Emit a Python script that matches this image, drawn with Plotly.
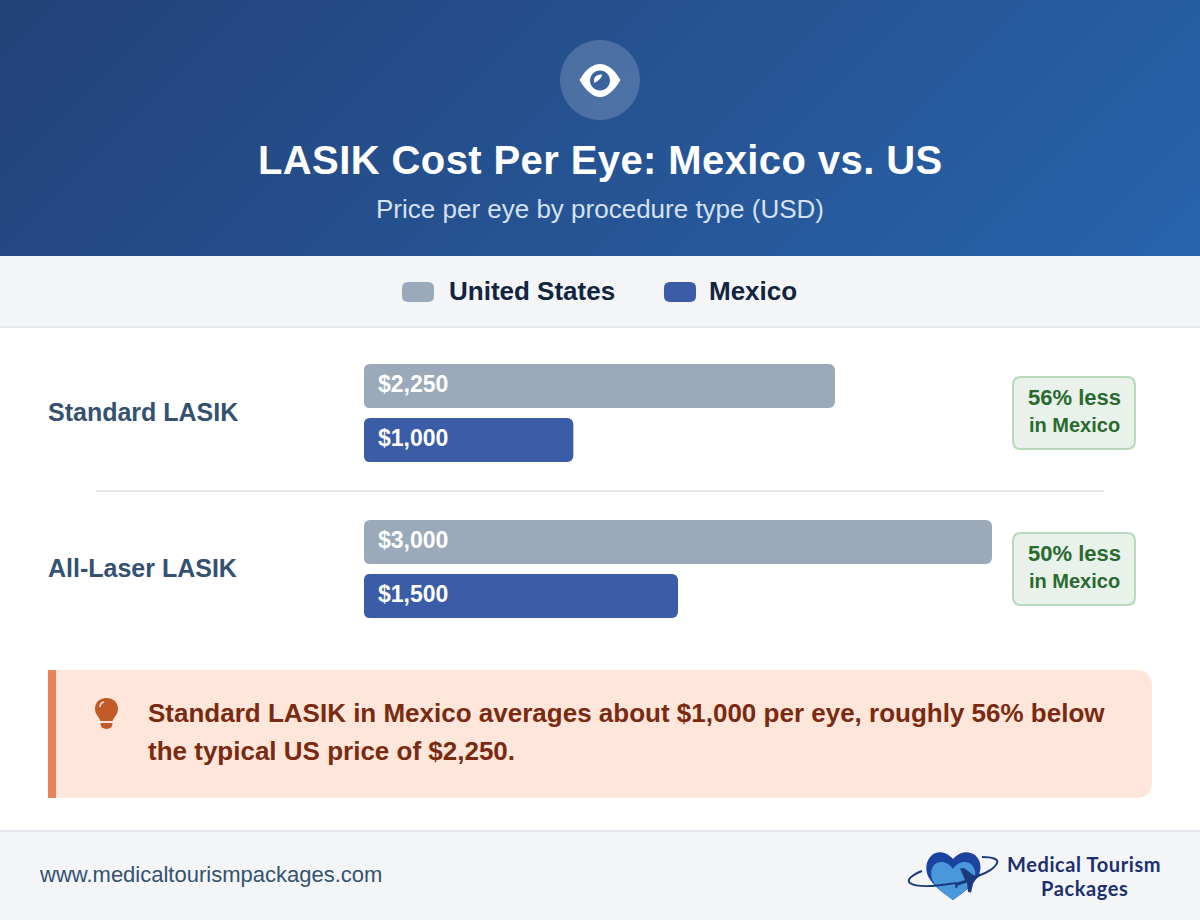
import base64
import plotly.graph_objects as go

W, H = 1200, 920

# Chart data
categories = ["Standard LASIK", "All-Laser LASIK"]
us_prices = [2250, 3000]
mexico_prices = [1000, 1500]
savings = ["56% less", "50% less"]
series_names = ["United States", "Mexico"]

# Palette
US_COLOR = "#9aaaba"
MX_COLOR = "#3b5ca6"
BAND = "#f3f5f7"
RULE = "#e5e9ee"
SANS = "Liberation Sans"


def px(x, y):
    """Canvas pixels (origin top-left) to paper fractions."""
    return x / W, 1 - y / H


def path(*cmds):
    """Build a paper-space SVG path from commands given in canvas pixels."""
    out = []
    for c in cmds:
        if isinstance(c, str):
            out.append(c)
        else:
            a, b = px(*c)
            out.append(f"{a:.5f},{b:.5f}")
    return " ".join(out)


def rounded(x0, y0, x1, y1, r):
    rtl, rtr, rbr, rbl = r if isinstance(r, tuple) else (r, r, r, r)
    return path("M", (x0 + rtl, y0), "L", (x1 - rtr, y0), "Q", (x1, y0), (x1, y0 + rtr),
                "L", (x1, y1 - rbr), "Q", (x1, y1), (x1 - rbr, y1),
                "L", (x0 + rbl, y1), "Q", (x0, y1), (x0, y1 - rbl),
                "L", (x0, y0 + rtl), "Q", (x0, y0), (x0 + rtl, y0), "Z")


def circle(cx, cy, r):
    k = 0.5523 * r
    return path("M", (cx - r, cy), "C", (cx - r, cy - k), (cx - k, cy - r), (cx, cy - r),
                "C", (cx + k, cy - r), (cx + r, cy - k), (cx + r, cy),
                "C", (cx + r, cy + k), (cx + k, cy + r), (cx, cy + r),
                "C", (cx - k, cy + r), (cx - r, cy + k), (cx - r, cy), "Z")


def solid(d, color, line=None, width=0):
    return dict(type="path", path=d, xref="paper", yref="paper", layer="below",
                fillcolor=color, line=dict(color=line or color, width=width))


def stroke(d, color, width):
    return dict(type="path", path=d, xref="paper", yref="paper", layer="below",
                fillcolor="rgba(0,0,0,0)", line=dict(color=color, width=width))


def label(x, y, text, size, color, anchor="left", bold=False, family=SANS):
    a, b = px(x, y)
    return dict(xref="paper", yref="paper", x=a, y=b, text=f"<b>{text}</b>" if bold else text,
                showarrow=False, xanchor=anchor, yanchor="middle",
                font=dict(family=family, size=size, color=color), borderpad=0, borderwidth=0)


shapes = []
notes = []

# Header: icon disc and eye
shapes.append(solid(circle(600, 80, 40), "rgba(255,255,255,0.18)"))
shapes.append(solid(path("M", (579.5, 80), "C", (586, 69), (593, 64), (600, 64),
                         "C", (607, 64), (614, 69), (620.5, 80),
                         "C", (614, 91), (607, 97), (600, 97),
                         "C", (593, 97), (586, 91), (579.5, 80), "Z"), "#ffffff"))
shapes.append(solid(circle(600, 80.5, 10), "#3a63a0"))
shapes.append(solid(path("M", (594.5, 83), "C", (592.5, 78), (596, 74), (602, 74.5),
                         "C", (602, 78), (598.5, 80.5), (594.5, 83), "Z"), "#ffffff"))
notes.append(label(600, 160, '<span style="letter-spacing:0.4px">LASIK Cost Per Eye: Mexico vs. US</span>',
                   40, "#ffffff", "center", True))
notes.append(label(600, 209, "Price per eye by procedure type (USD)", 26, "#d5e1f0", "center"))

# Legend band
shapes.append(solid(path("M", (0, 256), "L", (W, 256), "L", (W, 326), "L", (0, 326), "Z"), BAND))
shapes.append(solid(path("M", (0, 326), "L", (W, 326), "L", (W, 328), "L", (0, 328), "Z"), RULE))
shapes.append(solid(rounded(402, 282, 434, 302, 6), US_COLOR))
shapes.append(solid(rounded(664, 282, 696, 302, 6), MX_COLOR))
notes.append(label(449, 291, series_names[0], 26, "#12243f", "left", True))
notes.append(label(709, 291, series_names[1], 26, "#12243f", "left", True))

# Divider between the two procedure rows
shapes.append(solid(path("M", (96, 490), "L", (1104, 490), "L", (1104, 492), "L", (96, 492), "Z"), RULE))

# Savings badges
for text, top in zip(savings, [376, 532]):
    shapes.append(solid(rounded(1013, top + 1, 1135, top + 73, 8), "#e8f2ea", "#b9d9bd", 2))
    notes.append(label(1074.5, top + 21, text, 22, "#2a6a2f", "center", True))
    notes.append(label(1074.5, top + 49, "in Mexico", 20, "#2a6a2f", "center", True))

# Callout
shapes.append(solid(rounded(48, 670, 1152, 798, (0, 16, 16, 0)), "#ffe6da"))
shapes.append(solid(path("M", (48, 670), "L", (56, 670), "L", (56, 798), "L", (48, 798), "Z"), "#e8825a"))
shapes.append(solid(path("M", (95, 709), "C", (95, 702), (100, 698), (106.5, 698),
                         "C", (113, 698), (118, 702), (118, 709),
                         "C", (118, 714), (114, 717), (112.5, 721), "L", (100.5, 721),
                         "C", (99, 717), (95, 714), (95, 709), "Z"), "#c05a28"))
shapes.append(solid(path("M", (100.5, 723), "L", (112.5, 723), "Q", (112.5, 729), (106.5, 729),
                         "Q", (100.5, 729), (100.5, 723), "Z"), "#c05a28"))
shapes.append(stroke(path("M", (100, 707), "Q", (100, 703), (104, 702)), "#ffe6da", 1.5))
notes.append(label(148, 713, "Standard LASIK in Mexico averages about $1,000 per eye, roughly 56% below",
                   26, "#7a2a10", "left", True))
notes.append(label(148, 751, "the typical US price of $2,250.", 26, "#7a2a10", "left", True))

# Footer
shapes.append(solid(path("M", (0, 830), "L", (W, 830), "L", (W, H), "L", (0, H), "Z"), BAND))
shapes.append(solid(path("M", (0, 830), "L", (W, 830), "L", (W, 832), "L", (0, 832), "Z"), RULE))
notes.append(label(39, 874.5, "www.medicaltourismpackages.com", 22, "#34526f"))

# Footer brand mark: heart, orbit and aeroplane
shapes.append(solid(path("M", (953, 859), "C", (947, 852), (938, 850), (932, 855),
                         "C", (925, 861), (925, 871), (929, 878),
                         "C", (935, 888), (946, 895), (953, 900),
                         "C", (960, 895), (971, 888), (977, 878),
                         "C", (982, 871), (982, 861), (975, 855),
                         "C", (968, 850), (959, 852), (953, 859), "Z"), "#1d43a0"))
shapes.append(solid(path("M", (953, 869), "C", (948, 861), (939, 860), (934, 865),
                         "C", (929, 871), (931, 880), (936, 886),
                         "C", (941, 892), (948, 896), (953, 900),
                         "C", (958, 896), (966, 891), (971, 885),
                         "C", (976, 879), (977, 871), (972, 865),
                         "C", (967, 860), (958, 861), (953, 869), "Z"), "#4a98dc"))
shapes.append(stroke(path("M", (922, 871), "C", (912, 875), (906, 880), (910, 883),
                          "C", (917, 888), (938, 886), (956, 883)), "#1b3a7e", 2))
shapes.append(stroke(path("M", (982, 857), "C", (992, 857), (999, 859), (997, 863),
                          "C", (995, 868), (987, 873), (979, 875.5)), "#1b3a7e", 2))
shapes.append(solid(path("M", (955, 883), "L", (965, 880), "L", (960, 868.5), "L", (964, 868),
                         "L", (974, 875.5), "L", (980, 873.5), "L", (979.5, 876.5), "L", (974, 880),
                         "L", (971, 892.5), "L", (968, 892), "L", (967, 882.5),
                         "L", (958, 885.5), "L", (957, 888), "L", (955.5, 888), "Z"), "#1b3a7e"))
brand_line = '<span style="letter-spacing:0.6px">{}</span>'
notes.append(label(1084, 864, brand_line.format("Medical Tourism"), 20, "#1c2f6e", "center", True, "Lato"))
notes.append(label(1084, 888, brand_line.format("Packages"), 20, "#1c2f6e", "center", True, "Lato"))

# Category rows and price labels tied to the axes
for i, cat in enumerate(categories):
    notes.append(dict(xref="paper", yref="y", x=48 / W, y=cat, text=f"<b>{cat}</b>", showarrow=False,
                      xanchor="left", yanchor="middle", yshift=1, borderpad=0, borderwidth=0,
                      font=dict(family=SANS, size=25, color="#34526f")))
    for value, shift in ((us_prices[i], 29), (mexico_prices[i], -25)):
        notes.append(dict(xref="x", yref="y", x=0, y=cat, text=f"<b>${value:,}</b>", showarrow=False,
                          xanchor="left", yanchor="middle", xshift=14, yshift=shift,
                          borderpad=0, borderwidth=0,
                          font=dict(family=SANS, size=23, color="#ffffff")))

# Round the bars' base corners too: Plotly only rounds the far end
for top in (364, 418, 520, 574):
    bottom = top + 44
    for d in (path("M", (364, top), "L", (370, top), "Q", (364, top), (364, top + 6), "Z"),
              path("M", (364, bottom), "L", (370, bottom), "Q", (364, bottom), (364, bottom - 6), "Z")):
        mask = solid(d, "#ffffff")
        mask["layer"] = "above"
        shapes.append(mask)

fig = go.Figure()
for name, values, color in ((series_names[0], us_prices, US_COLOR), (series_names[1], mexico_prices, MX_COLOR)):
    fig.add_trace(go.Bar(name=name, y=categories, x=values, orientation="h",
                         marker=dict(color=color, line=dict(width=0), cornerradius=6),
                         hovertemplate=name + ": $%{x:,}<extra>%{y}</extra>"))

# CSS-style 135 degree header gradient
gradient = (
    '<svg xmlns="http://www.w3.org/2000/svg" width="1200" height="256">'
    '<defs><linearGradient id="g" gradientUnits="userSpaceOnUse" x1="236" y1="-236" x2="964" y2="492">'
    '<stop offset="0" stop-color="#234278"/><stop offset="1" stop-color="#2863ac"/>'
    '</linearGradient></defs><rect width="1200" height="256" fill="url(#g)"/></svg>'
)
header = "data:image/svg+xml;base64," + base64.b64encode(gradient.encode()).decode()

fig.update_layout(
    width=W, height=H, autosize=False,
    margin=dict(l=0, r=0, t=0, b=0, pad=0),
    paper_bgcolor="#ffffff", plot_bgcolor="rgba(0,0,0,0)",
    showlegend=False, barmode="group",
    bargap=1 - 108 / 156, bargroupgap=10 / 54,
    xaxis=dict(domain=[364 / W, 992 / W], range=[0, 3000], visible=False, fixedrange=True),
    yaxis=dict(domain=[1 - 647 / H, 1 - 335 / H], categoryorder="array", categoryarray=categories,
               autorange="reversed", visible=False, fixedrange=True),
    images=[dict(source=header, xref="paper", yref="paper", x=0, y=1, sizex=1, sizey=256 / H,
                 xanchor="left", yanchor="top", sizing="stretch", layer="below")],
    shapes=shapes,
    annotations=notes,
    font=dict(family=SANS),
)

fig.write_html("out.html", config=dict(displayModeBar=False))
